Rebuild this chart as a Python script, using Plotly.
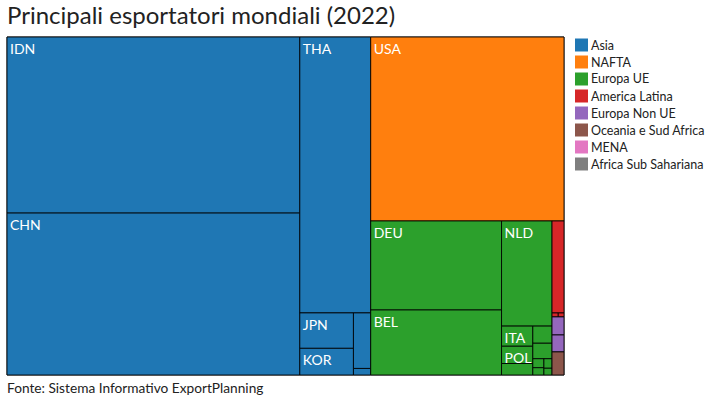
import plotly.graph_objects as go

# ---- data (shares of world exports, %) ----
regions = ["Asia", "NAFTA", "Europa UE", "America Latina", "Europa Non UE",
           "Oceania e Sud Africa", "MENA", "Africa Sub Sahariana"]
region_colors = ["#1f77b4", "#ff7f0e", "#2ca02c", "#d62728", "#9467bd",
                 "#8c564b", "#e377c2", "#7f7f7f"]

asia_countries = ["IDN", "CHN", "THA", "JPN", "KOR", "MYS", "IND"]
asia_values = [27.4, 25.2, 10.4, 1.01, 0.76, 0.51, 0.06]

nafta_countries = ["USA"]
nafta_values = [18.9]

ue_countries = ["DEU", "BEL", "NLD", "ITA", "POL", "ESP", "FRA", "AUT", "SWE", "CZE", "PRT", "DNK"]
ue_values = [6.19, 4.52, 2.82, 0.335, 0.287, 0.191, 0.175, 0.158, 0.053, 0.043, 0.041, 0.029]

latam_countries = ["BRA", "MEX", "ARG"]
latam_values = [0.586, 0.013, 0.012]

noue_countries = ["GBR", "TUR"]
noue_values = [0.115, 0.108]

oce_countries = ["AUS"]
oce_values = [0.147]

# labels printed on the chart
shown_labels = ["IDN", "CHN", "THA", "JPN", "KOR", "USA", "DEU", "BEL", "NLD", "ITA", "POL"]

groups = [
    ("Asia", asia_countries, asia_values),
    ("NAFTA", nafta_countries, nafta_values),
    ("Europa UE", ue_countries, ue_values),
    ("America Latina", latam_countries, latam_values),
    ("Europa Non UE", noue_countries, noue_values),
    ("Oceania e Sud Africa", oce_countries, oce_values),
]

color_of = dict(zip(regions, region_colors))

ids, labels, parents, values, colors, texts = [], [], [], [], [], []
for reg, countries, vals in groups:
    ids.append(reg); labels.append(reg); parents.append(""); values.append(0)
    colors.append(color_of[reg]); texts.append("")
    for c, v in zip(countries, vals):
        ids.append(reg + "/" + c); labels.append(c); parents.append(reg); values.append(v)
        colors.append(color_of[reg]); texts.append("%{label}" if c in shown_labels else "")

FONT = "Lato"
W, H = 711, 396
ML, MR, MT, MB = 7, 147, 37, 21

fig = go.Figure(go.Treemap(
    ids=ids, labels=labels, parents=parents, values=values,
    branchvalues="remainder",
    sort=True,
    tiling=dict(packing="squarify", squarifyratio=1.618034, pad=0),
    marker=dict(colors=colors, line=dict(color="rgba(0,0,0,0.85)", width=1),
                pad=dict(t=0, l=0, r=0, b=0)),
    texttemplate=texts,
    textposition="top left",
    textfont=dict(family=FONT, size=14, color="white"),
    pathbar=dict(visible=False),
    hoverinfo="label+value",
))

pw = W - ML - MR
ph = H - MT - MB

def px_x(x):
    return (x - ML) / pw

def px_y(y):
    return 1 - (y - MT) / ph

shapes, annotations = [], []
for i, (reg, col) in enumerate(zip(regions, region_colors)):
    yc = 45 + i * 17
    shapes.append(dict(type="rect", xref="paper", yref="paper",
                       x0=px_x(575), x1=px_x(588), y0=px_y(yc - 6.5), y1=px_y(yc + 6.5),
                       fillcolor=col, line=dict(width=0)))
    annotations.append(dict(xref="paper", yref="paper", x=px_x(589), y=px_y(yc),
                            xanchor="left", yanchor="middle", text=reg, showarrow=False,
                            font=dict(family=FONT, size=12.5, color="#222")))

annotations.append(dict(xref="paper", yref="paper", x=px_x(5), y=px_y(387),
                        xanchor="left", yanchor="middle",
                        text="Fonte: Sistema Informativo ExportPlanning", showarrow=False,
                        font=dict(family=FONT, size=13.7, color="#222")))

fig.update_layout(
    width=W, height=H,
    margin=dict(l=ML, r=MR, t=MT, b=MB),
    paper_bgcolor="white",
    title=dict(text="Principali esportatori mondiali (2022)", x=7 / W, xanchor="left",
               y=1 - 16 / H, yanchor="middle", xref="container", yref="container",
               font=dict(family=FONT, size=24, color="#222")),
    font=dict(family=FONT),
    shapes=shapes, annotations=annotations,
    showlegend=False,
    uniformtext=dict(mode="show", minsize=14),
)

fig.write_html("out.html", config={"displayModeBar": False},
               post_script="document.body.style.margin='0';")
